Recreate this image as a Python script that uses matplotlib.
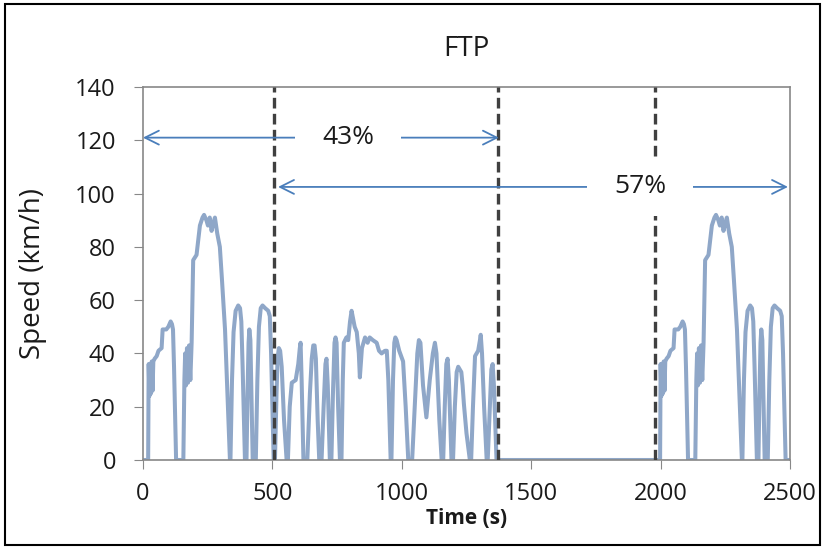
import numpy as np
import matplotlib.pyplot as plt
from matplotlib.patches import Rectangle

# ---------------------------------------------------------------------------
# FTP-75 speed trace (time [s], speed [km/h])
# ---------------------------------------------------------------------------
# cold-start phase
cold_t = [0, 20, 22, 25, 28, 31, 34, 37, 40, 45, 53, 60, 72, 76, 90, 98, 107,
          112, 116, 120, 128, 156, 160, 163, 166, 170, 174, 178, 183, 188,
          194, 207, 220, 230, 236, 245, 251, 258, 265, 272, 278, 287, 297,
          305, 317, 328, 336, 338, 344, 350, 358, 368, 375, 380, 385, 394,
          400, 404, 408, 411, 415, 419, 424, 436, 442, 448, 455, 462, 472,
          484, 490, 495, 505]
cold_v = [0, 0, 36, 24, 36, 25, 37, 26, 37, 38, 39, 41, 42, 49, 49, 50, 52,
          51, 49, 35, 0, 0, 30, 40, 28, 42, 29, 43, 30, 44,
          75, 77, 88, 91, 92, 90, 88, 91, 86, 89, 91, 85, 80,
          68, 49, 20, 0, 0, 30, 48, 56, 58, 57, 52, 35, 0,
          0, 25, 44, 49, 45, 25, 0, 0, 30, 50, 57, 58, 57,
          56, 54, 40, 0]

# stabilised phase
stab_t = [510, 516, 520, 525, 530, 536, 545, 555, 560, 567, 575, 590, 600,
          606, 609, 613, 620, 635, 645, 652, 658, 663, 668, 675, 681, 690,
          698, 705, 709, 714, 722, 728, 734, 740, 744, 748, 754, 761, 767,
          772, 776, 786, 793, 800, 806, 812, 818, 826, 834, 838, 846, 858,
          868, 876, 888, 903, 912, 922, 935, 942, 948, 957, 960, 966, 971,
          975, 980, 990, 1005, 1015, 1025, 1040, 1050, 1060, 1066, 1072,
          1082, 1095, 1108, 1120, 1128, 1134, 1145, 1154, 1160, 1166, 1172,
          1177, 1182, 1192, 1198, 1205, 1212, 1218, 1230, 1235, 1240, 1250,
          1263, 1268, 1275, 1283, 1295, 1302, 1305, 1310, 1318, 1328, 1332,
          1340, 1346, 1351, 1356, 1366, 1372]
stab_v = [0, 25, 38, 42, 41, 35, 15, 0, 0, 20, 29, 30, 36,
          42, 44, 30, 0, 0, 25, 38, 43, 43, 38, 15, 0, 0,
          20, 36, 38, 28, 0, 0, 25, 44, 46, 44, 20, 0, 0,
          30, 44, 46, 45, 52, 56, 53, 50, 48, 40, 31, 42, 46,
          44, 46, 45, 44, 41, 40, 41, 41, 30, 0, 0, 30, 44,
          46, 45, 41, 37, 20, 0, 0, 20, 40, 45, 44,
          28, 16, 30, 40, 44, 40, 15, 0, 0, 20, 36,
          38, 30, 0, 0, 20, 33, 35, 33, 28, 21, 10,
          0, 0, 20, 39, 41, 45, 47, 40, 20, 0, 0,
          20, 34, 36, 28, 0, 0]

# hot-start phase (after the soak)
hot_t = [1978, 1998, 2000, 2003, 2006, 2009, 2012, 2015, 2018, 2023, 2031,
         2038, 2050, 2054, 2068, 2076, 2085, 2090, 2094, 2098, 2106, 2134,
         2138, 2141, 2144, 2148, 2152, 2156, 2161, 2166, 2172, 2185, 2198,
         2208, 2214, 2223, 2229, 2236, 2243, 2250, 2256, 2265, 2275, 2283,
         2295, 2306, 2314, 2316, 2322, 2328, 2336, 2346, 2353, 2358, 2363,
         2372, 2378, 2382, 2386, 2389, 2393, 2397, 2402, 2414, 2420, 2426,
         2433, 2440, 2450, 2462, 2468, 2473, 2483, 2500]
hot_v = [0, 0, 36, 24, 36, 25, 37, 26, 37, 38, 39,
         41, 42, 49, 49, 50, 52, 51, 49, 35, 0, 0,
         30, 40, 28, 42, 29, 43, 30, 44, 75, 77, 88,
         91, 92, 90, 88, 91, 86, 89, 91, 85, 80, 68,
         49, 20, 0, 0, 30, 48, 56, 58, 57, 52, 35,
         0, 0, 25, 44, 49, 45, 25, 0, 0, 30, 50,
         57, 58, 57, 56, 54, 40, 0, 0]

phase_bounds = [505, 1372, 1977]
share_labels = ['43%', '57%']
share_spans = [(0, 1375), (522, 2492)]
share_y = [121, 102.5]
share_text_x = [792, 1922]

# ---------------------------------------------------------------------------
# Plot
# ---------------------------------------------------------------------------
plt.rcParams['font.family'] = ['Open Sans', 'DejaVu Sans']
TXT = '#1a1a1a'

fig = plt.figure(figsize=(8.25, 5.48), dpi=100)
ax = fig.add_axes([0.1733, 0.1606, 0.7843, 0.6806])

t = cold_t + stab_t + hot_t
v = cold_v + stab_v + hot_v
ax.plot(t, v, color='#8FA7C8', lw=2.9, solid_joinstyle='round',
        solid_capstyle='round', zorder=2)

for xb in phase_bounds:
    ax.plot([xb, xb], [0, 140], color='#404040', lw=2.4,
            linestyle=(0, (3.2, 1.6)), zorder=3)

# share arrows with masked labels
for (x0, x1), y, xt, lab in zip(share_spans, share_y, share_text_x,
                                share_labels):
    ax.annotate('', xy=(x0, y), xytext=(x1, y),
                arrowprops=dict(arrowstyle='<->,head_length=1.0,head_width=0.5',
                                color='#4A7EBB', lw=1.3, shrinkA=0, shrinkB=0),
                zorder=3)
    ax.add_patch(Rectangle((xt - 205, y - 11), 410, 22, facecolor='white',
                           edgecolor='none', zorder=4))
    ax.text(xt, y, lab, ha='center', va='center', fontsize=19, color=TXT,
            zorder=5)

ax.set_xlim(0, 2500)
ax.set_ylim(0, 140)
ax.set_xticks(np.arange(0, 2501, 500))
ax.set_yticks(np.arange(0, 141, 20))
ax.tick_params(labelsize=17, length=6.5, color='#888888', labelcolor=TXT)
ax.tick_params(axis='y', pad=13)
ax.tick_params(axis='x', pad=9)
for sp in ax.spines.values():
    sp.set_color('#888888')
    sp.set_linewidth(1.2)

ax.set_ylabel('Speed (km/h)', fontsize=20, color=TXT)
ax.yaxis.set_label_coords(-0.148, 0.5)
ax.set_xlabel('Time (s)', fontsize=15, fontweight='bold', color=TXT,
              labelpad=2)
ax.set_title('FTP', fontsize=20, color=TXT, pad=22)

# outer frame around the picture
fig.patches.append(Rectangle((0.006, 0.006), 0.988, 0.986,
                             transform=fig.transFigure, fill=False,
                             edgecolor='black', lw=1.5))

fig.savefig('out.png', dpi=100)
